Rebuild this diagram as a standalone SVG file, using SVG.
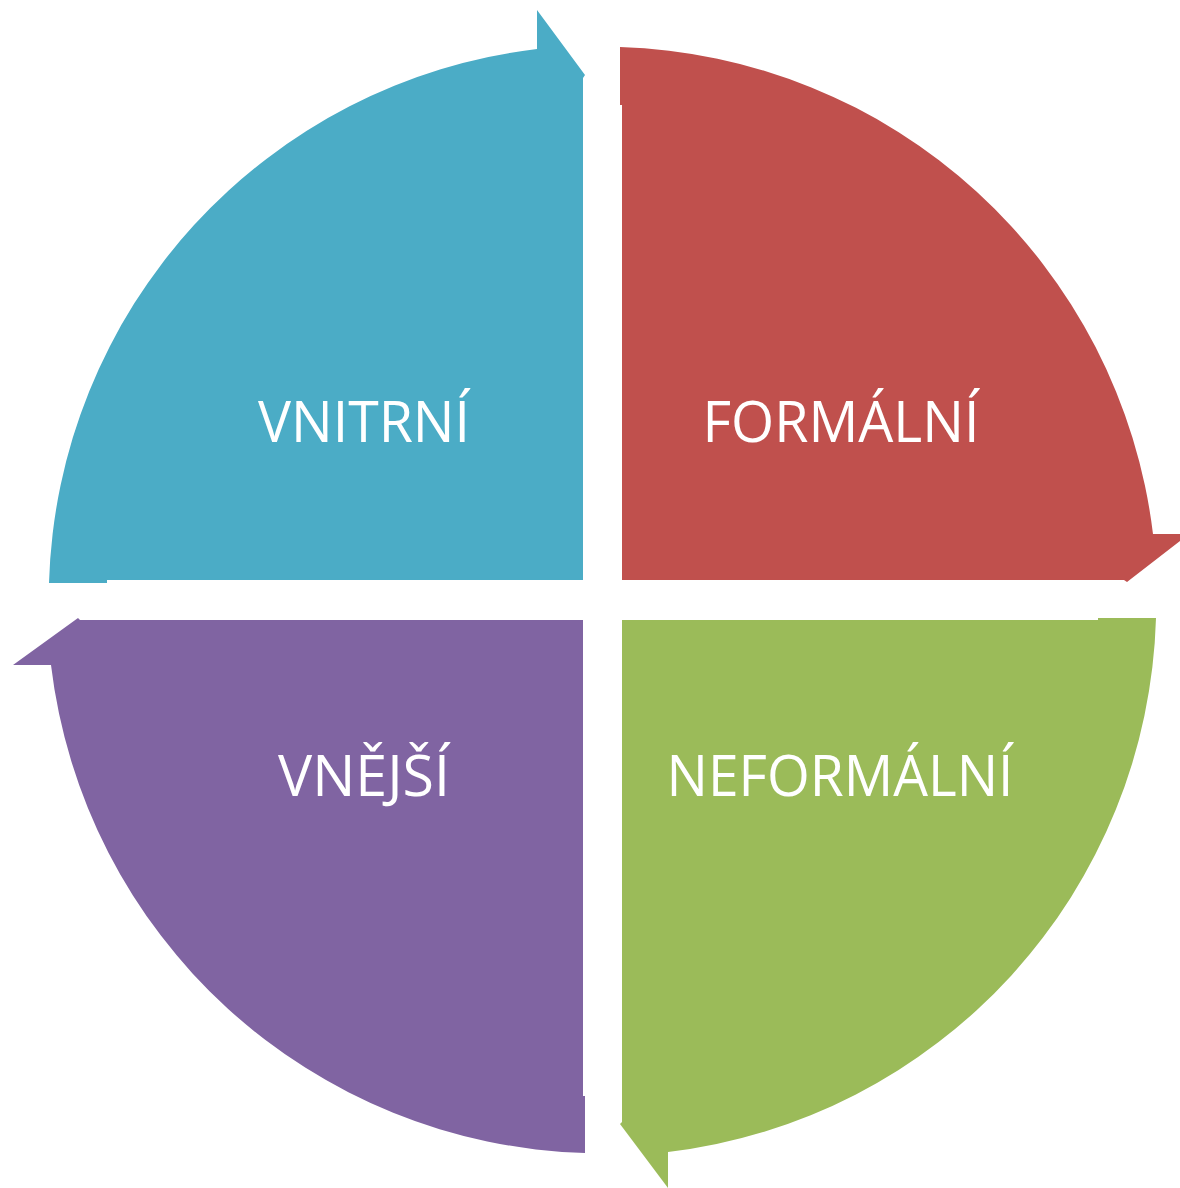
<svg xmlns="http://www.w3.org/2000/svg" width="1180" height="1188" viewBox="0 0 1180 1188">
<style>
.lbl{font-family:"Open Sans","Liberation Sans",sans-serif;font-size:56px;fill:#FFFFFF;text-anchor:middle}
</style>
<rect width="1180" height="1188" fill="#FFFFFF"/>
<g id="vnitrni">
<path d="M49,583 L107,583 L107,580 L583,580 L583,78 L585,75 L537,10 L537,49 A554,554 0 0 0 49,583 Z" fill="#4BACC6"/>
<text class="lbl" x="364" y="442" textLength="212" lengthAdjust="spacingAndGlyphs">VNITRNÍ</text>
</g>
<g id="formalni">
<path d="M620,47 A554,554 0 0 1 1153,534 L1180,534 L1180,541 L1127,582 L1124,580 L622,580 L622,105 L620,105 Z" fill="#C0504D"/>
<text class="lbl" x="841" y="442" textLength="277" lengthAdjust="spacingAndGlyphs">FORMÁLNÍ</text>
</g>
<g id="neformalni">
<path d="M622,620 L1098,620 L1098,618 L1156,618 A554,554 0 0 1 668,1152 L668,1188 L620,1124 L622,1122 Z" fill="#9BBB59"/>
<text class="lbl" x="840" y="796" textLength="347" lengthAdjust="spacingAndGlyphs">NEFORMÁLNÍ</text>
</g>
<g id="vnejsi">
<path d="M585,1153 A554,554 0 0 1 51,665 L13,665 L78,618 L80,620 L583,620 L583,1096 L585,1096 Z" fill="#8064A2"/>
<text class="lbl" x="364" y="796" textLength="172" lengthAdjust="spacingAndGlyphs">VNĚJŠÍ</text>
</g>
<g id="connectors"></g>
</svg>
